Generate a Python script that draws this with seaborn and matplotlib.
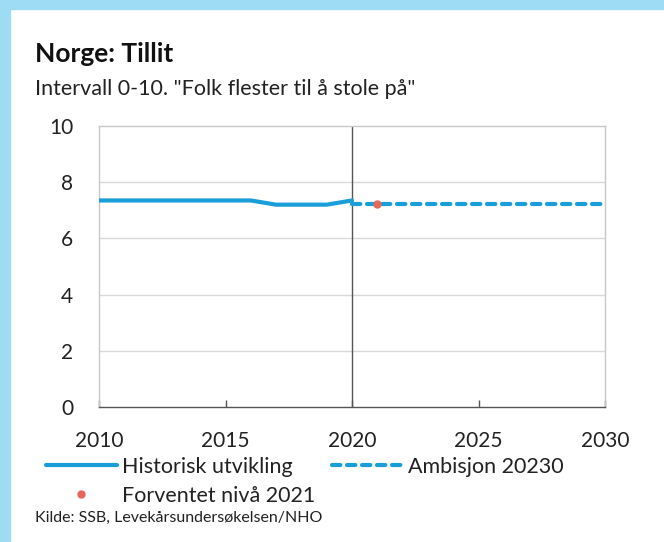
import numpy as np
import pandas as pd
import seaborn as sns
import matplotlib.pyplot as plt
from matplotlib.patches import Rectangle

# data
hist_years = [2010, 2011, 2012, 2013, 2014, 2015, 2016, 2017, 2018, 2019, 2020]
hist_vals = [7.35, 7.35, 7.35, 7.35, 7.35, 7.35, 7.35, 7.2, 7.2, 7.2, 7.35]
amb_years = [2020, 2030]
amb_vals = [7.22, 7.22]
exp_years = [2021]
exp_vals = [7.24]
y_ticks = [0, 2, 4, 6, 8, 10]
x_ticks = [2010, 2015, 2020, 2025, 2030]

blue = '#1a9ed9'
red = '#e8665a'

sns.set_style('white')
plt.rcParams['font.family'] = ['Lato', 'DejaVu Sans']

fig = plt.figure(figsize=(6.64, 5.42), dpi=100)
ax = fig.add_axes([99 / 664, 1 - 407 / 542, 506 / 664, 281 / 542])

# light blue frame top and left
fig.patches.append(Rectangle((0, 1 - 9 / 542), 1, 9 / 542, transform=fig.transFigure,
                             color='#9edcf5', zorder=0))
fig.patches.append(Rectangle((0, 0), 10 / 664, 1, transform=fig.transFigure,
                             color='#9edcf5', zorder=0))

df_hist = pd.DataFrame({'year': hist_years, 'value': hist_vals})
df_amb = pd.DataFrame({'year': amb_years, 'value': amb_vals})

sns.lineplot(data=df_hist, x='year', y='value', ax=ax, color=blue, lw=3,
             label='Historisk utvikling', zorder=3)
ax.plot([], [], ls='none', marker='o', color=red, ms=5, label='Forventet nivå 2021')
sns.lineplot(data=df_amb, x='year', y='value', ax=ax, color=blue, lw=3,
             ls=(0, (2.0, 1.6)), dash_capstyle='round', label='Ambisjon 20230', zorder=3)
ax.plot(exp_years, exp_vals, ls='none', marker='o', color=red, ms=5, zorder=4)

ax.axvline(2020, color='#555555', lw=1, zorder=2)

ax.set_xlim(2010, 2030)
ax.set_ylim(0, 10)
ax.set_xticks(x_ticks)
ax.set_yticks(y_ticks)
ax.set_xlabel('')
ax.set_ylabel('')
for y in y_ticks[1:-1]:
    ax.axhline(y, color='#d9d9d9', lw=1, zorder=1)

for s in ['left', 'top', 'right']:
    ax.spines[s].set_color('#c8c8c8')
    ax.spines[s].set_linewidth(1)
ax.spines['bottom'].set_color('#555555')
ax.spines['bottom'].set_linewidth(1)

# small inward tick marks on the x axis
ax.tick_params(axis='x', bottom=True, direction='in', length=5, width=1,
               color='#555555', labelsize=15, pad=17, labelcolor='#222222')
ax.tick_params(axis='y', left=False, labelsize=15, pad=15, labelcolor='#222222')

leg = ax.legend(loc='upper left', bbox_to_anchor=(-0.105, -0.177), ncol=2, frameon=False,
                fontsize=15.5, handlelength=3.3, handletextpad=0.25, columnspacing=0.75,
                labelspacing=0.42, borderaxespad=0, borderpad=0)
for t in leg.get_texts():
    t.set_color('#222222')

fig.text(35 / 664, 1 - 54 / 542, 'Norge: Tillit', fontsize=19, fontweight='bold',
         color='#111111', va='center', ha='left')
fig.text(35 / 664, 1 - 89 / 542, 'Intervall 0-10. "Folk flester til å stole på"',
         fontsize=15.5, color='#222222', va='center', ha='left')
fig.text(35 / 664, 1 - 518 / 542, 'Kilde: SSB, Levekårsundersøkelsen/NHO',
         fontsize=11.5, color='#222222', va='center', ha='left')

fig.savefig('out.png', dpi=100)
